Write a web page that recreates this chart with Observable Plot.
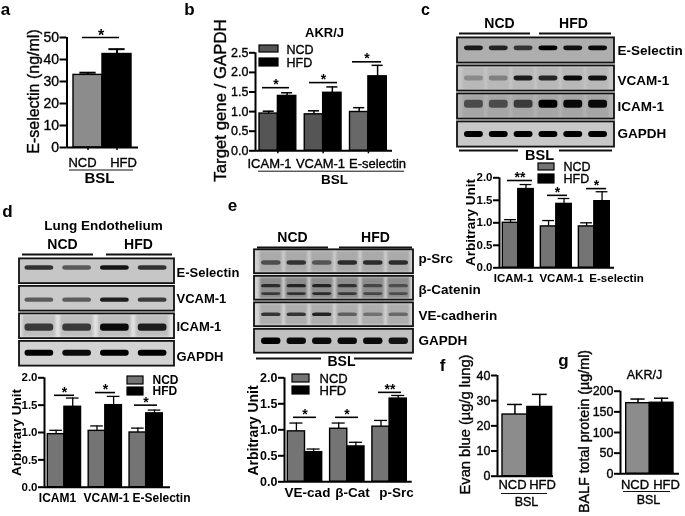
<!DOCTYPE html>
<html><head><meta charset="utf-8">
<script src="https://cdn.jsdelivr.net/npm/d3@7"></script>
<script src="https://cdn.jsdelivr.net/npm/@observablehq/plot@0.6"></script>
<style>
html,body{margin:0;padding:0;background:#fff;width:685px;height:516px;overflow:hidden}
#fig{position:relative;width:685px;height:516px;filter:blur(.3px)}
#fig svg{position:absolute;left:0;top:0;background:transparent;overflow:visible}
</style></head><body><div id="fig"></div>
<script>
// ---------- chart values ----------
const series = ["NCD", "HFD"];
const aValues = [[33], [42.5]];           const aTops = [[34], [44.7]];
const bGroups = ["ICAM-1", "VCAM-1", "E-selectin"];
const bNCD = [0.95, 0.93, 0.99];          const bNCDTop = [1.01, 1.02, 1.10];
const bHFD = [1.40, 1.48, 1.90];          const bHFDTop = [1.48, 1.63, 2.18];
const bSig = [1.61, 1.74, 2.27];
const cGroups = ["ICAM-1", "VCAM-1", "E-selectin"];
const cNCD = [1.00, 0.92, 0.92];          const cNCDTop = [1.07, 1.05, 1.00];
const cHFD = [1.75, 1.42, 1.48];          const cHFDTop = [1.85, 1.54, 1.69];
const cSig = [1.94, 1.61, 1.76];          const cStars = ["**", "*", "*"];
const dGroups = ["ICAM1", "VCAM-1", "E-Selectin"];
const dNCD = [0.97, 1.03, 1.00];          const dNCDTop = [1.04, 1.12, 1.08];
const dHFD = [1.47, 1.50, 1.35];          const dHFDTop = [1.63, 1.66, 1.41];
const dSig = [1.68, 1.73, 1.50];
const eGroups = ["VE-cad", "β-Cat", "p-Src"];
const eNCD = [0.97, 1.02, 1.06];          const eNCDTop = [1.13, 1.13, 1.18];
const eHFD = [0.57, 0.68, 1.60];          const eHFDTop = [0.63, 0.76, 1.66];
const eSig = [1.24, 1.24, 1.72];          const eStars = ["*", "*", "**"];
const fValues = [[24.5], [27.5]];         const fTops = [[28.5], [32.5]];
const gValues = [[171], [172]];           const gTops = [[181], [183]];

// band strength on each blot, lane by lane
const cESel = [.85, .8, .7, 1, .9, .95];
const cVCAM = [.25, .3, .85, .8, .95, .9];
const cICAM = [.55, .55, .65, 1, .95, .95];
const cGAPDH = [1, 1, 1, 1, 1, 1];
const dESel = [.75, .55, .9, .75];
const dVCAM = [.55, .55, .85, .7];
const dICAM = [.7, .7, .95, .85];
const dGAPDH = [1, .95, 1, 1];
const ePSrc = [.55, .7, .5, .75, .75, .75];
const eCatUp = [.7, .75, .75, .65, .5, .45];
const eCatLow = [.6, .65, .7, .6, .5, .45];
const eVE = [.7, .7, .8, .45, .35, .4];
const eGAPDH = [1, .95, .95, .95, .95, .9];
const cRows = ["E-Selectin", "VCAM-1", "ICAM-1", "GAPDH"];
const dRows = ["E-Selectin", "VCAM-1", "ICAM-1", "GAPDH"];
const eRows = ["p-Src", "β-Catenin", "VE-cadherin", "GAPDH"];

// ---------- layout ----------
const FONT = "Liberation Sans, Arial, sans-serif";
const fig = document.getElementById("fig");
const W = 685, H = 516, STEP = 2.46;
const add = p => fig.appendChild(p);

function chart(c) {
  const n = c.ncd.length;
  const bw = (c.barRight - c.barLeft) / ((n - 1) * STEP + 2);
  const u = px => (px - c.barLeft) / bw;
  const bars = [];
  [c.ncd, c.hfd].forEach((vals, s) => vals.forEach((v, g) => {
    const x1 = g * STEP + s;
    bars.push({x1, x2: x1 + 1, xc: x1 + .5, v, top: (s ? c.hfdTop : c.ncdTop)[g],
      color: s ? "#000000" : (c.grays ? c.grays[g] : c.gray)});
  }));
  const xDom = [u(c.axisX), u(c.baseEnd)];
  const ticks = c.tickEach === "bar" ? bars.map(d => d.xc) : c.ncd.map((_, g) => g * STEP + 1);
  const sig = (c.sig || []).map((y, i) => ({y, x1: u(c.sigX[i][0]), x2: u(c.sigX[i][1]), star: (c.stars || [])[i] || "*"}));
  const sw = c.lineW || 1.6;
  const bold = c.tickWeight === "bold";
  const marks = [
    Plot.rect(bars, {x1: "x1", x2: "x2", y1: 0, y2: "v", fill: "color", stroke: "#000", strokeWidth: 1.4}),
    Plot.ruleX(bars, {x: "xc", y1: "v", y2: "top", stroke: "#000", strokeWidth: sw}),
    Plot.ruleY(bars, {y: "top", x1: d => d.xc - c.cap, x2: d => d.xc + c.cap, stroke: "#000", strokeWidth: sw}),
    Plot.ruleX([xDom[0]], {y1: 0, y2: c.ymax, stroke: "#000", strokeWidth: c.axisW || 2}),
    Plot.ruleY([0], {x1: xDom[0], x2: xDom[1], stroke: "#000", strokeWidth: c.axisW || 2}),
    Plot.axisY({ticks: c.ticks, tickSize: c.tickLen || 6, tickPadding: 1, label: null, strokeWidth: c.axisW || 2,
      tickFormat: c.fmt, fontSize: c.tickFont, fontWeight: c.tickWeight || "normal", fontFamily: FONT, fill: "#000",
      textStroke: bold ? "none" : "#000", textStrokeWidth: .35}),
    Plot.ruleY(sig, {y: "y", x1: "x1", x2: "x2", stroke: "#000", strokeWidth: 1.6}),
    Plot.text(sig, {x: d => (d.x1 + d.x2) / 2, y: "y", text: "star", dy: c.starDy ?? -3, fontSize: c.starFont || 14,
      fontWeight: "bold", fontFamily: FONT, fill: "#000", lineAnchor: "middle"})
  ];
  if (c.xTick) marks.push(Plot.axisX({ticks, tickSize: c.xTick, tickFormat: () => "", label: null, strokeWidth: 1.5}));
  add(Plot.plot({width: W, height: H, marginLeft: c.axisX, marginRight: W - c.baseEnd, marginTop: c.yTop, marginBottom: H - c.y0,
    x: {domain: xDom, axis: null}, y: {domain: [0, c.ymax], axis: null}, marks}));
}

function blot(b) {
  const nLane = b.lanes, nRow = b.rows.length;
  const lw = (b.laneRight - b.laneLeft) / nLane;
  const u = px => (px - b.laneLeft) / lw;
  const xDom = [u(b.frameLeft), u(b.frameRight)];
  const frames = b.rows.map((r, i) => ({i, y1: i + .05, y2: i + .95, bg: r.bg}));
  const haze = [], bands = [];
  b.rows.forEach((r, i) => {
    (r.layers).forEach(l => l.vals.forEach((v, k) => {
      bands.push({x1: k + .12, x2: k + .88, y1: i + l.pos - l.th / 2, y2: i + l.pos + l.th / 2, v});
    }));
    if (r.haze) for (let k = 0; k < nLane; k++) haze.push({x1: k + .06, x2: k + .94, y1: i + .1, y2: i + .9, o: r.haze});
  });
  add(Plot.plot({width: W, height: H, marginLeft: b.frameLeft, marginRight: W - b.frameRight, marginTop: b.top, marginBottom: H - b.bottom,
    x: {domain: xDom, axis: null}, y: {domain: [0, nRow], reverse: true, axis: null}, marks: [
      Plot.rect(frames, {x1: xDom[0], x2: xDom[1], y1: "y1", y2: "y2", fill: "bg"}),
      Plot.rect(haze, {x1: "x1", x2: "x2", y1: "y1", y2: "y2", fill: "#555", fillOpacity: "o", imageFilter: "blur(1.2px)"}),
      Plot.rect(bands, {x1: "x1", x2: "x2", y1: "y1", y2: "y2", fill: "#000", fillOpacity: "v", rx: 3, imageFilter: "blur(.6px)"}),
      Plot.rect(frames, {x1: xDom[0], x2: xDom[1], y1: "y1", y2: "y2", fill: "none", stroke: "#111", strokeWidth: 1.8})
    ]}));
}

chart({ncd: aValues[0], hfd: aValues[1], ncdTop: aTops[0], hfdTop: aTops[1], gray: "#8c8c8c", axisX: 66.5, baseEnd: 138, barLeft: 73, barRight: 131,
  y0: 147, yTop: 37, ymax: 50, ticks: [0,10,20,30,40,50], tickFont: 14, tickLen: 7, cap: .28, sig: [50], sigX: [[82,119]], starDy: -2, starFont: 16, tickEach: "bar", xTick: 3, lineW: 2});
chart({ncd: bNCD, hfd: bHFD, ncdTop: bNCDTop, hfdTop: bHFDTop, grays: ["#555555","#555555","#686868"], axisX: 255, baseEnd: 392, barLeft: 259, barRight: 386.3,
  y0: 150.3, yTop: 52.3, ymax: 2.5, ticks: [0,.5,1,1.5,2,2.5], fmt: d3.format(".1f"), tickFont: 12.5, cap: .3, sig: bSig, sigX: [[262,289],[309,337],[352,381]], xTick: 3, lineW: 1.5});
chart({ncd: cNCD, hfd: cHFD, ncdTop: cNCDTop, hfdTop: cHFDTop, gray: "#747474", axisX: 499, baseEnd: 614, barLeft: 502.3, barRight: 609.3,
  y0: 267.3, yTop: 177.3, ymax: 2, ticks: [0,.5,1,1.5,2], fmt: d3.format(".1f"), tickFont: 11.5, tickWeight: "bold", cap: .38, sig: cSig, sigX: [[507,532],[547,567],[586,606]], stars: cStars, lineW: 1.3});
chart({ncd: dNCD, hfd: dHFD, ncdTop: dNCDTop, hfdTop: dHFDTop, gray: "#747474", axisX: 44, baseEnd: 170, barLeft: 47.3, barRight: 162.3,
  y0: 486.7, yTop: 377.3, ymax: 2, ticks: [0,.5,1,1.5,2], fmt: d3.format(".1f"), tickFont: 11.5, tickWeight: "bold", cap: .38, sig: dSig, sigX: [[54,74],[95,115],[134,157]], lineW: 1.3});
chart({ncd: eNCD, hfd: eHFD, ncdTop: eNCDTop, hfdTop: eHFDTop, gray: "#747474", axisX: 284, baseEnd: 411.7, barLeft: 287.3, barRight: 406.3,
  y0: 481.3, yTop: 377.3, ymax: 2, ticks: [0,.5,1,1.5,2], fmt: d3.format(".1f"), tickFont: 12.5, tickWeight: "bold", cap: .38, sig: eSig, sigX: [[293,316],[335,358],[378,401]], stars: eStars, lineW: 1.3});
chart({ncd: fValues[0], hfd: fValues[1], ncdTop: fTops[0], hfdTop: fTops[1], gray: "#8c8c8c", axisX: 497, baseEnd: 553, barLeft: 502, barRight: 551.7,
  y0: 475.7, yTop: 375, ymax: 40, ticks: [0,10,20,30,40], tickFont: 12.5, cap: .3, tickEach: "bar", lineW: 1.5});
chart({ncd: gValues[0], hfd: gValues[1], ncdTop: gTops[0], hfdTop: gTops[1], gray: "#8c8c8c", axisX: 620, baseEnd: 679, barLeft: 625.7, barRight: 673,
  y0: 473.3, yTop: 390.7, ymax: 200, ticks: [0,50,100,150,200], tickFont: 12.5, cap: .3, tickEach: "bar", lineW: 1.5});

blot({lanes: 6, laneLeft: 461, laneRight: 610, frameLeft: 457, frameRight: 614, top: 36, bottom: 148, rows: [
  {bg: "#aeaeae", layers: [{vals: cESel, pos: .42, th: .17}]},
  {bg: "#c6c6c6", haze: .12, layers: [{vals: cVCAM, pos: .5, th: .17}]},
  {bg: "#b4b4b4", haze: .15, layers: [{vals: cICAM, pos: .42, th: .28}]},
  {bg: "#c8c8c8", layers: [{vals: cGAPDH, pos: .5, th: .22}]}]});
blot({lanes: 4, laneLeft: 20, laneRight: 171, frameLeft: 19, frameRight: 174, top: 257, bottom: 367, rows: [
  {bg: "#c6c6c6", layers: [{vals: dESel, pos: .38, th: .16}]},
  {bg: "#c9c9c9", layers: [{vals: dVCAM, pos: .55, th: .15}]},
  {bg: "#e2e2e2", haze: .25, layers: [{vals: dICAM, pos: .55, th: .26}]},
  {bg: "#d2d2d2", layers: [{vals: dGAPDH, pos: .48, th: .22}]}]});
blot({lanes: 6, laneLeft: 258, laneRight: 411, frameLeft: 254, frameRight: 413, top: 248, bottom: 354, rows: [
  {bg: "#cfcfcf", haze: .3, layers: [{vals: ePSrc, pos: .55, th: .17}]},
  {bg: "#cfcfcf", haze: .55, layers: [{vals: eCatUp, pos: .42, th: .12}, {vals: eCatLow, pos: .72, th: .1}]},
  {bg: "#d4d4d4", haze: .3, layers: [{vals: eVE, pos: .5, th: .14}]},
  {bg: "#c0c0c0", layers: [{vals: eGAPDH, pos: .5, th: .24}]}]});

// ---------- words and rules placed on the sheet ----------
const T = (text, x, y, size, bold, extra = {}) => ({text, x, y, size, bold, anchor: "middle", rotate: 0, ...extra});
const L = {anchor: "start"};
const V = {rotate: -90};
const texts = [
  // panel letters
  T("a",5,9,17,1), T("b",189,9,17,1), T("c",425,9,16,1), T("d",7,211,17,1), T("e",232,205,17,1), T("f",442,365,17,1), T("g",563,360,17,1),
  // y titles
  T("E-selectin (ng/ml)",33,91,16,0,V), T("Target gene / GAPDH",220,100,16.8,0,V), T("Arbitrary Unit",470,222,13.5,1,V), T("Arbitrary Unit",16,432,13.5,1,V),
  T("Arbitrary Unit",253,430,14,1,V), T("Evan blue (µg/g lung)",465,424,14.7,0,V), T("BALF total protein (µg/ml)",584,431,14.3,0,V),
  // titles
  T("AKR/J",324,32,13,1), T("AKR/J",644,374,12.5,0), T("Lung Endothelium",103,225,13.5,1),
  // x labels
  T(series[0],82,162,13,0), T(series[1],123,162,13,0), T("BSL",99,178,15,1),
  T(bGroups[0],269,163,13,0), T(bGroups[1],320,163,13,0), T(bGroups[2],377,163,13,0), T("BSL",334,179,13.5,1),
  T(cGroups[0],513,278,11.5,1), T(cGroups[1],561,278,11.5,1), T(cGroups[2],616,278,11.5,1),
  T(dGroups[0],57,498,12,1), T(dGroups[1],106,498,12,1), T(dGroups[2],161,498,12,1),
  T(eGroups[0],307,492,13.5,1), T(eGroups[1],352,492,13.5,1), T(eGroups[2],396,492,13.5,1),
  T(series[0],512,484,13,0), T(series[1],542,484,13,0), T("BSL",526,501,12.5,0),
  T(series[0],634.5,484,13,0), T(series[1],666,484,13,0), T("BSL",648,499,12.5,0),
  // blot headers
  T(series[0],499,23,14,1), T(series[1],573,23,14,1), T("BSL",539,155,14.5,1),
  T(series[0],62,244,14,1), T(series[1],138,244,14,1),
  T(series[0],292,237,14,1), T(series[1],375,237,14,1), T("BSL",341,361,14,1),
  // blot rows
  ...cRows.map((t,i)=>T(t,617,[50,80,106,133][i],13.5,1,L)),
  ...dRows.map((t,i)=>T(t,176,[272,298,326,356][i],13,1,L)),
  ...eRows.map((t,i)=>T(t,418,[258,289,315,340][i],13.5,1,L)),
  // legends
  T(series[0],286,49,12.5,0,L), T(series[1],286,62,12.5,0,L),
  T(series[0],563,166,12.5,0,L), T(series[1],563,178,12.5,0,L),
  T(series[0],152,380,12,1,L), T(series[1],152,391,12,1,L),
  T(series[0],319,378,13,0,L), T(series[1],319,390,13,0,L)
];
const rules = [
  [69,133,169.5,1],[258,404,170.7,1],[501,547,493,1],[623,670,491,1],
  [459,530,33,2],[539,611,33,2],[459,518,150,2],[559,612,150,2],
  [22,93,254,2],[106,172,254,2],[257,328,247,2],[339,412,247,2],[256,321,358,2],[354,412,358,2]
];
const swatches = [
  [259,278,45,52,"#555555"],[259,278,58,66,"#000000"],
  [538,554,163,170,"#747474"],[538,554,174,183,"#000000"],
  [127,143,376,384,"#747474"],[127,143,387,395,"#000000"],
  [292,309,374,382,"#747474"],[292,309,386,394,"#000000"]
].map(([x1,x2,y1,y2,c])=>({x1,x2,y1,y2,c}));
const textMarkBy = (rows, bold, anchor) => Plot.text(rows.filter(d => d.anchor === anchor), {x: "x", y: "y", text: "text", fontSize: "size", rotate: "rotate", textAnchor: anchor,
  fontFamily: FONT, fontWeight: bold ? "bold" : "normal", fill: "#000", lineAnchor: "middle",
  ...(bold ? {} : {stroke: "#000", strokeWidth: .35})});
add(Plot.plot({width: W, height: H, margin: 0, x: {domain: [0, W], axis: null}, y: {domain: [0, H], reverse: true, axis: null}, marks: [
  Plot.ruleY(rules, {y: d => d[2], x1: d => d[0], x2: d => d[1], strokeWidth: d => d[3], stroke: "#111"}),
  Plot.rect(swatches, {x1: "x1", x2: "x2", y1: "y1", y2: "y2", fill: "c", stroke: "#000", strokeWidth: 1.2}),
  textMarkBy(texts.filter(d => d.bold), true, "middle"),
  textMarkBy(texts.filter(d => !d.bold), false, "middle"),
  textMarkBy(texts.filter(d => d.bold), true, "start"),
  textMarkBy(texts.filter(d => !d.bold), false, "start")
]}));
</script></body></html>
